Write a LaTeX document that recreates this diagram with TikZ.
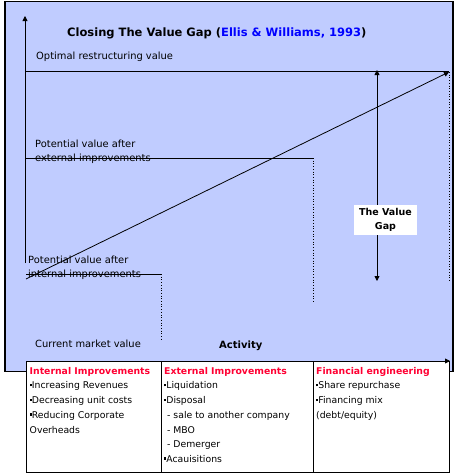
\documentclass[tikz,border=0pt]{standalone}
\usepackage{fontspec}
\setmainfont{DejaVu Sans}
\usetikzlibrary{arrows.meta}
\definecolor{bgblue}{HTML}{C0CCFF}
\definecolor{hdred}{HTML}{FF0033}
\definecolor{ttlblue}{HTML}{0000FF}
\newcommand\sqbul{\rule[2.6pt]{2.2pt}{2.4pt}}
\begin{document}
\begin{tikzpicture}[x=1pt,y=-1pt,
  lbl/.style={anchor=west,inner sep=0pt,font=\fontsize{9.9}{13.5}\selectfont,align=left},
  cell/.style={anchor=north west,inner sep=0pt,font=\fontsize{9.3}{14.7}\selectfont,align=left},
  level/.style={line width=0.8pt},
  guide/.style={dotted,line width=0.7pt},
  tip/.style={-{Triangle[length=5pt,width=5pt]}},
]
\useasboundingbox (0,0) rectangle (456,475);
\fill[white] (0,0) rectangle (456,475);
% background panel
\draw[fill=bgblue,line width=1.1pt] (5,1.5) rectangle (453,371.5);
% coordinates
\coordinate (ytop) at (25,16);
\coordinate (ybot) at (25,263);
\coordinate (opL) at (25,71);
\coordinate (opR) at (449,71);
\coordinate (exL) at (25,158);
\coordinate (exR) at (313,158);
\coordinate (exD) at (313,302);
\coordinate (inL) at (26,274);
\coordinate (inR) at (161,274);
\coordinate (inD) at (161,339);
\coordinate (sS) at (26,279);
\coordinate (sE) at (449,72);
\coordinate (oD) at (449,280);
\coordinate (gT) at (377,70);
\coordinate (gB) at (377,281);
\coordinate (xL) at (26,361);
\coordinate (xR) at (450,361);
% labels
\node[lbl,font=\fontsize{11.5}{13}\selectfont\bfseries] (title) at (67,33)
  {Closing The Value Gap (\textcolor{ttlblue}{Ellis \& Williams, 1993})};
\node[lbl] (optimal) at (36,57) {Optimal restructuring value};
\node[lbl,anchor=north west] (extlbl) at (35,140) {Potential value after\\external improvements};
\node[lbl,anchor=north west] (intlbl) at (28,256) {Potential value after\\internal improvements};
\node[lbl] (current) at (35,344) {Current market value};
\node[lbl,font=\fontsize{10}{12}\selectfont\bfseries] (activity) at (219,346) {Activity};
% axes and lines
\draw[tip,line width=0.8pt] (ybot) -- (ytop);
\draw[level] (opL) -- (opR);
\draw[level] (exL) -- (exR);
\draw[guide] (exR) -- (exD);
\draw[level] (inL) -- (inR);
\draw[guide] (inR) -- (inD);
\draw[guide] (sE) -- (oD);
\draw[tip,line width=0.8pt] (sS) -- (sE);
\draw[{Triangle[length=5pt,width=5pt]}-{Triangle[length=5pt,width=5pt]},line width=0.8pt] (gB) -- (gT);
\node[fill=white,minimum width=63pt,minimum height=30pt,inner sep=0pt,align=center,
  font=\fontsize{9.5}{13.5}\selectfont\bfseries] (gap) at (385.5,220) {The Value\\Gap};
% table
\draw[fill=white,line width=0.8pt] (26,361) rectangle (449,472);
\draw[line width=0.8pt] (161,361) -- (161,472);
\draw[line width=0.8pt] (313,361) -- (313,472);
\draw[tip,line width=0.8pt] (xL) -- (xR);
\node[cell] (c1) at (29.5,367) {{\color{hdred}\bfseries Internal Improvements}\\
  \sqbul Increasing Revenues\\\sqbul Decreasing unit costs\\\sqbul Reducing Corporate\\Overheads};
\node[cell] (c2) at (164,367) {{\color{hdred}\bfseries External Improvements}\\
  \sqbul Liquidation\\\sqbul Disposal\\\ - sale to another company\\\ - MBO\\\ - Demerger\\\sqbul Acauisitions};
\node[cell] (c3) at (316,367) {{\color{hdred}\bfseries Financial engineering}\\
  \sqbul Share repurchase\\\sqbul Financing mix\\(debt/equity)};
\end{tikzpicture}
\end{document}
